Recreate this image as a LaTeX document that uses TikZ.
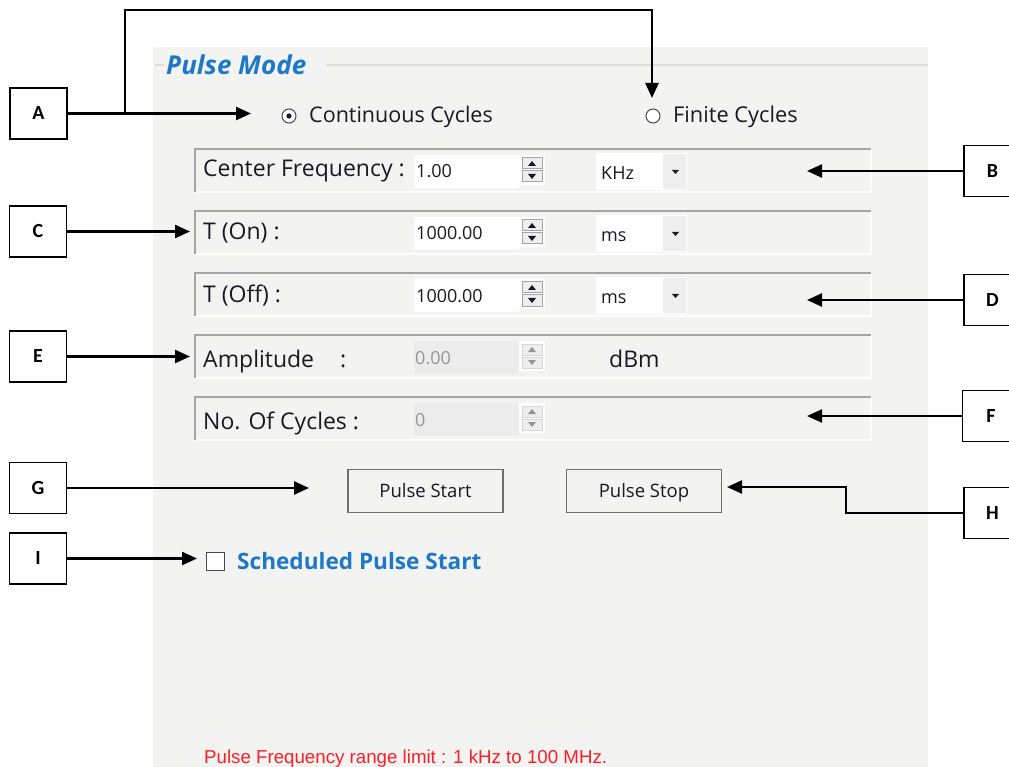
\documentclass[tikz,border=0pt]{standalone}
\usepackage{fontspec}
\setmainfont{Open Sans}
\newfontfamily\lblfont{Carlito}
\newfontfamily\notefont{Liberation Sans}
\usetikzlibrary{arrows.meta}
\definecolor{panel}{RGB}{243,243,242}
\definecolor{uiblue}{RGB}{30,120,200}
\definecolor{uitext}{RGB}{25,25,35}
\definecolor{frameline}{RGB}{165,165,165}
\definecolor{grpline}{RGB}{220,220,220}
\definecolor{distext}{RGB}{150,150,150}
\definecolor{disfill}{RGB}{236,236,236}
\definecolor{disborder}{RGB}{215,215,215}
\definecolor{btnborder}{RGB}{112,112,112}
\definecolor{ddbtn}{RGB}{238,238,238}
\definecolor{notered}{RGB}{250,30,40}
\tikzset{
 lbl/.style={draw=black, line width=1.1pt, fill=white, minimum width=57pt, minimum height=51pt, inner sep=0pt, font=\lblfont\bfseries\fontsize{20}{24}\selectfont},
 conn/.style={line width=2.4pt, -{Triangle[length=15pt,width=13pt]}},
 fieldlbl/.style={anchor=base west, inner sep=0pt, text=uitext, font=\fontsize{23}{27}\selectfont},
 val/.style={anchor=base west, inner sep=0pt, text=uitext, font=\fontsize{18}{22}\selectfont},
 disval/.style={val, text=distext},
 radio/.style={circle, draw=uitext!80, fill=white, line width=1pt, minimum size=14pt, inner sep=0pt},
 btn/.style={draw=btnborder, fill=panel, line width=1.2pt, minimum width=155pt, minimum height=43pt, inner sep=0pt, text height=15pt, text depth=2pt, text=uitext, font=\fontsize{18.5}{22}\selectfont},
}
\newcommand\framerow[1]{%
 \draw[white, line width=1.5pt] (195,#1+43) -- (871,#1+43) -- (871,#1);
 \draw[frameline, line width=1.5pt] (195,#1+43) -- (195,#1) -- (871,#1);}
\newcommand\spinner[3]{%
 \fill[white] (519,#1+6) rectangle (545,#1+36);
 \draw[#2, fill=ddbtn, line width=1pt] (522,#1+9) rectangle (542,#1+20);
 \draw[#2, fill=ddbtn, line width=1pt] (522,#1+22) rectangle (542,#1+33);
 \fill[#3] (528,#1+17) -- (536,#1+17) -- (532,#1+12) -- cycle;
 \fill[#3] (528,#1+25) -- (536,#1+25) -- (532,#1+30) -- cycle;}
\newcommand\dropdown[1]{%
 \fill[white] (596,#1+4) rectangle (687,#1+41);
 \fill[ddbtn] (663,#1+5) rectangle (686,#1+40);
 \fill[uitext] (672,#1+21) -- (679,#1+21) -- (675.5,#1+25) -- cycle;}
\begin{document}
\begin{tikzpicture}[x=1pt,y=-1pt]
\useasboundingbox (0,0) rectangle (1009,767);
\fill[white] (0,0) rectangle (1009,767);
\fill[panel] (153,47) rectangle (928,767);
% group box line
\draw[grpline, line width=1.5pt] (155,65) -- (164,65);
\draw[grpline, line width=1.5pt] (326,65) -- (928,65);
\node[anchor=base west, inner sep=0pt, text=uiblue, font=\bfseries\itshape\fontsize{26}{30}\selectfont] (title) at (166,75) {Pulse Mode};
% radio buttons
\node[radio] (rc) at (289,116) {};
\fill[uitext] (rc.center) circle (2.6);
\node[fieldlbl, font=\fontsize{21.5}{26}\selectfont] (tc) at (309,123) {Continuous Cycles};
\node[radio] (rf) at (653,116) {};
\node[fieldlbl, font=\fontsize{21.8}{26}\selectfont] (tf) at (673,123) {Finite Cycles};
% rows
\framerow{149}\framerow{211}\framerow{273}\framerow{335}\framerow{397}
% row 1
\fill[white] (414,155) rectangle (519,188);
\spinner{149}{frameline}{uitext}
\dropdown{149}
\node[fieldlbl] (l1) at (203,177) {Center Frequency :};
\node[val] (v1) at (416,178) {1.00};
\node[val] (u1) at (601,180) {KHz};
% row 2
\fill[white] (414,217) rectangle (519,250);
\spinner{211}{frameline}{uitext}
\dropdown{211}
\node[fieldlbl] (l2) at (203,240) {T (On) :};
\node[val] (v2) at (416,240) {1000.00};
\node[val] (u2) at (601,242) {ms};
% row 3
\fill[white] (414,279) rectangle (519,312);
\spinner{273}{frameline}{uitext}
\dropdown{273}
\node[fieldlbl] (l3) at (203,302) {T (Off) :};
\node[val] (v3) at (416,302) {1000.00};
\node[val] (u3) at (601,304) {ms};
% row 4
\fill[disfill] (414,341) rectangle (519,374);
\spinner{335}{disborder}{distext}
\node[fieldlbl] (l4) at (203,367) {Amplitude\hspace{26pt}:};
\node[disval] (v4) at (415,364) {0.00};
\node[fieldlbl] (u4) at (609,367) {dBm};
% row 5
\fill[disfill] (414,403) rectangle (519,436);
\spinner{397}{disborder}{distext}
\node[fieldlbl] (l5) at (203,429) {No. Of Cycles :};
\node[disval] (v5) at (415,426) {0};
% buttons
\node[btn] (bstart) at (425.5,491) {Pulse Start};
\node[btn] (bstop) at (644,491) {Pulse Stop};
% checkbox
\node[draw=uitext!80, fill=white, line width=1pt, minimum size=18pt, inner sep=0pt] (cb) at (215.5,561) {};
\node[anchor=base west, inner sep=0pt, text=uiblue, font=\bfseries\fontsize{22.6}{26}\selectfont] (sched) at (237,569) {Scheduled Pulse Start};
% note
\node[anchor=base west, inner sep=0pt, text=notered, font=\notefont\fontsize{18.7}{22}\selectfont] (note) at (204,763) {Pulse Frequency range limit : 1 kHz to 100 MHz.};
% label boxes
\node[lbl] (A) at (38.5,113.5) {A};
\node[lbl] (B) at (992.5,171) {B};
\node[lbl] (C) at (38,231.5) {C};
\node[lbl] (D) at (992.5,300) {D};
\node[lbl] (E) at (38,356.5) {E};
\node[lbl] (F) at (991,416) {F};
\node[lbl] (G) at (38,488) {G};
\node[lbl] (H) at (992.5,513) {H};
\node[lbl] (I) at (38,558.5) {I};
% connector end points
\coordinate (aTip) at (251,113.5);
\coordinate (aBr) at (125,113.5);
\coordinate (aTop) at (652,10);
\coordinate (fTip) at (652,98);
\coordinate (bTip) at (807,171);
\coordinate (cTip) at (190,231.5);
\coordinate (dTip) at (807,300);
\coordinate (eTip) at (190,356.5);
\coordinate (fRowTip) at (807,416);
\coordinate (gTip) at (309,488);
\coordinate (hBend) at (846,487);
\coordinate (hTip) at (727,487);
\coordinate (iTip) at (197,558.5);
% connectors
\draw[conn] (A.east) -- (aTip);
\draw[conn] (aBr) |- (aTop) -- (fTip);
\draw[conn] (B.west) -- (bTip);
\draw[conn] (C.east) -- (cTip);
\draw[conn] (D.west) -- (dTip);
\draw[conn] (E.east) -- (eTip);
\draw[conn] (F.west) -- (fRowTip);
\draw[conn] (G.east) -- (gTip);
\draw[conn] (H.west) -| (hBend) -- (hTip);
\draw[conn] (I.east) -- (iTip);
\end{tikzpicture}
\end{document}
